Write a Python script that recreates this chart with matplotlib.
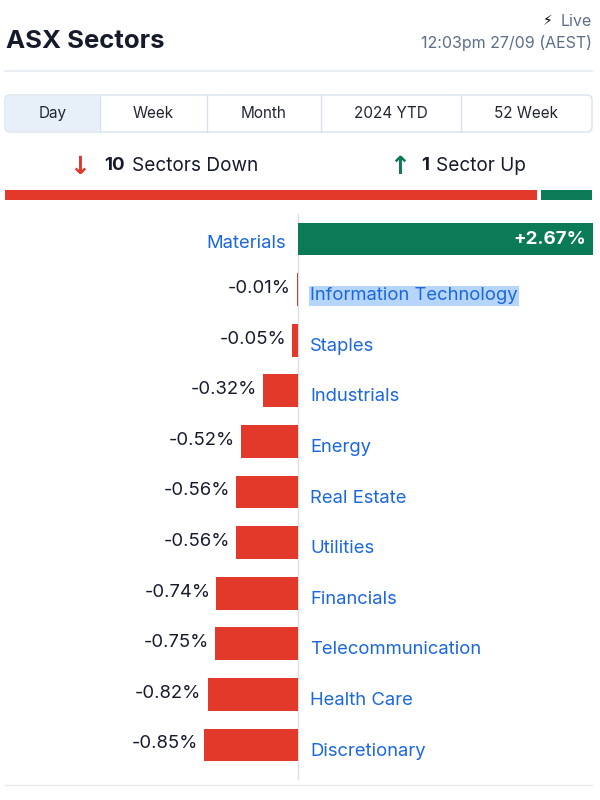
import matplotlib
matplotlib.use('Agg')
import matplotlib.pyplot as plt
from matplotlib.patches import FancyBboxPatch

sectors = ['Materials', 'Information Technology', 'Staples', 'Industrials', 'Energy',
           'Real Estate', 'Utilities', 'Financials', 'Telecommunication', 'Health Care',
           'Discretionary']
changes = [2.67, -0.01, -0.05, -0.32, -0.52, -0.56, -0.56, -0.74, -0.75, -0.82, -0.85]
tabs = ['Day', 'Week', 'Month', '2024 YTD', '52 Week']
n_down = sum(1 for c in changes if c < 0)
n_up = sum(1 for c in changes if c > 0)

RED = '#e3392a'
GREEN = '#0b7a57'
BLUE = '#1b67df'
DARK = '#151b2b'
GREY = '#5d6e88'
FONT = ['Inter', 'DejaVu Sans']

plt.rcParams['font.family'] = FONT
fig = plt.figure(figsize=(6, 8), dpi=100)
fig.patch.set_facecolor('white')

# overlay axes in pixel coordinates for the header parts
bg = fig.add_axes([0, 0, 1, 1])
bg.set_xlim(0, 600)
bg.set_ylim(800, 0)
bg.axis('off')

bg.text(6, 42, 'ASX Sectors', fontsize=18.5, weight='bold', color=DARK, va='center')
bg.text(553, 21, '⚡', fontsize=10, color='black', va='center', ha='right', family='DejaVu Sans')
bg.text(592, 21, 'Live', fontsize=11.5, color=GREY, va='center', ha='right')
bg.text(592, 43, '12:03pm 27/09 (AEST)', fontsize=11.5, color=GREY, va='center', ha='right')
bg.plot([5, 592], [71, 71], color='#e4ebf1', lw=1.2)

# tabs
tab_edges = [5, 100, 207, 321, 461, 592]
bg.add_patch(FancyBboxPatch((5, 95), 587, 37, boxstyle='round,pad=0,rounding_size=5',
                            facecolor='white', edgecolor='#d8e2ec', lw=1))
bg.add_patch(FancyBboxPatch((5.5, 95.5), 94.5, 36, boxstyle='round,pad=0,rounding_size=4',
                            facecolor='#e7eff8', edgecolor='none'))
for i, t in enumerate(tabs):
    x0, x1 = tab_edges[i], tab_edges[i + 1]
    if 0 < i:
        bg.plot([x0, x0], [95, 132], color='#d8e2ec', lw=1)
    bg.text((x0 + x1) / 2, 113.5, t, fontsize=11, color='#222631', ha='center', va='center')

# summary
bg.text(80, 167, '↓', fontsize=18, color=RED, ha='center', va='center', weight='bold',
        family='DejaVu Sans')
bg.text(104, 166, str(n_down), fontsize=13.5, weight='bold', color=DARK, va='center')
bg.text(132, 166, 'Sectors Down', fontsize=13.7, color=DARK, va='center')
bg.text(400, 167, '↑', fontsize=18, color=GREEN, ha='center', va='center', weight='bold',
        family='DejaVu Sans')
bg.text(421, 166, str(n_up), fontsize=13.5, weight='bold', color=DARK, va='center')
bg.text(436, 166, 'Sector Up', fontsize=13.7, color=DARK, va='center')

# split bar
sb = fig.add_axes([5 / 600, 1 - 200 / 800, 587 / 600, 10 / 800])
sb.set_xlim(0, n_down + n_up)
sb.set_ylim(-0.5, 0.5)
sb.axis('off')
gap = 0.04
sb.barh(0, n_down - gap, left=0, height=1, color=RED)
sb.barh(0, n_up - gap, left=n_down + gap, height=1, color=GREEN)

# main chart
ax = fig.add_axes([0, 1 - 780 / 800, 1, (780 - 214) / 800])
ax.set_xlim(-298 / 110.3, 302 / 110.3)
ax.set_ylim((780 - 239) / 50.6, (214 - 239) / 50.6)
ax.axis('off')
ypos = list(range(len(sectors)))
ax.axvline(0, color='#dcdfe3', lw=1, zorder=0)
colors = [GREEN if c > 0 else RED for c in changes]
ax.barh(ypos, changes, height=0.65, color=colors, zorder=2)

px = 1 / 110.3
for y, name, c in zip(ypos, sectors, changes):
    if c > 0:
        ax.text(-12 * px, y + 0.08, name, fontsize=13.3, color=BLUE, ha='right', va='center')
        ax.text(c - 6 * px, y, f'+{c:.2f}%', fontsize=13.5, color='white', weight='bold',
                ha='right', va='center')
    else:
        ax.text(c - 6 * px, y - 0.02, f'{c:.2f}%', fontsize=13.3, color=DARK, ha='right',
                va='center')
        kw = {}
        if name == 'Information Technology':
            kw['bbox'] = dict(boxstyle='square,pad=0.08', facecolor='#b6d5fb', edgecolor='none')
        ax.text(12 * px, y + 0.12, name, fontsize=13.3, color=BLUE, ha='left', va='center', **kw)

bg.plot([5, 592], [785, 785], color='#e8ecf0', lw=1)

fig.savefig('out.png', dpi=100, facecolor='white')
